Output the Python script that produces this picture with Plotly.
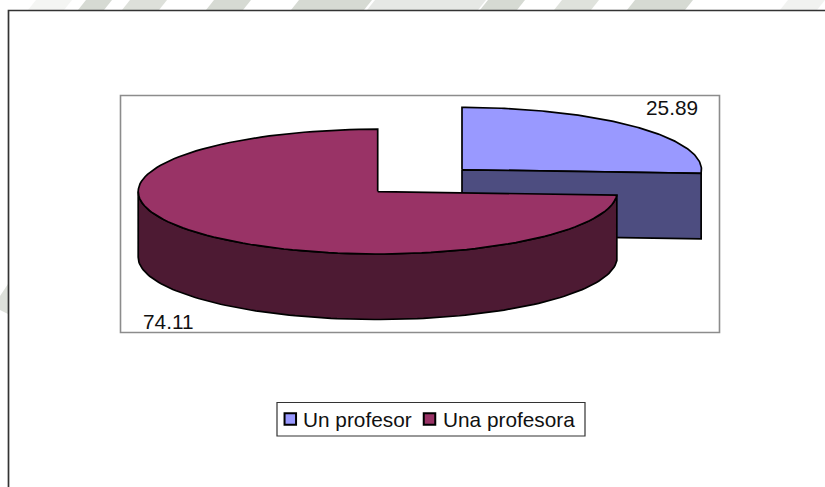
import numpy as np
import plotly.graph_objects as go

categories = ["Un profesor", "Una profesora"]
values = [25.89, 74.11]
slice_colors = ["#9999FF", "#993366"]
wall_colors = ["#4D4D80", "#4D1A33"]

# pie drawn in page pixels: centre of each top face, radii, wall height
centres = [(462, 169.8), (377.7, 191.6)]
rx, ry, depth = 239.5, 62.4, 65.5
outline = dict(color="black", width=1.7)

# faint scan watermark above the frame: x start, x end, colour
watermark = [
    (32, 68, "#f4f5f3"), (82, 108, "#d6dad3"), (126, 163, "#dde0da"), (210, 247, "#d6dad3"),
    (295, 368, "#d6dad3"), (371, 482, "#e6e8e5"), (484, 521, "#d6dad3"), (558, 595, "#dfe2dc"),
    (631, 689, "#d6dad3"), (784, 821, "#f1f2f0"),
]


def arc(cx, cy, start, end, n=120):
    # angles are clockwise from 12 o'clock, as in a spreadsheet pie
    t = np.radians(np.linspace(start, end, n))
    return cx + rx * np.sin(t), cy - ry * np.cos(t)


def add_poly(fig, x, y, color):
    fig.add_trace(go.Scatter(x=x, y=y, mode="lines", fill="toself", fillcolor=color,
                             line=outline, hoverinfo="skip", showlegend=False))


split = 360 * values[0] / sum(values)

fig = go.Figure()

# Un profesor: top face then cut face
cx, cy = centres[0]
ax, ay = arc(cx, cy, 0, split)
add_poly(fig, [cx, *ax, cx], [cy, *ay, cy], slice_colors[0])
add_poly(fig, [cx, ax[-1], ax[-1], cx, cx], [cy, ay[-1], ay[-1] + depth, cy + depth, cy], wall_colors[0])

# Una profesora: outer wall then top face
cx, cy = centres[1]
ax, ay = arc(cx, cy, split, 270)
add_poly(fig, [*ax, *ax[::-1], ax[0]], [*ay, *(ay[::-1] + depth), ay[0]], wall_colors[1])
ax, ay = arc(cx, cy, split, 360)
add_poly(fig, [cx, *ax, cx], [cy, *ay, cy], slice_colors[1])

# legend swatches
fig.add_trace(go.Scatter(x=[290.3, 429.5], y=[419, 419], mode="markers", hoverinfo="skip", showlegend=False,
                         marker=dict(symbol="square", size=11.5, color=slice_colors,
                                     line=dict(color="black", width=2))))

shapes = []
for x0, x1, color in watermark:
    shapes.append(dict(type="path", path=f"M{x0 + 4},0 L{x1 + 4},0 L{x1 - 4},10 L{x0 - 4},10 Z",
                       fillcolor=color, line_width=0, layer="below"))
shapes += [
    dict(type="path", path="M0,296 L8,284 L8,314 L0,310 Z", fillcolor="#dde0da", line_width=0, layer="below"),
    dict(type="rect", x0=8.5, y0=10.5, x1=840, y1=500, fillcolor="white",
         line=dict(color="#333333", width=1.7), layer="below"),
    dict(type="rect", x0=120.5, y0=95.5, x1=719.5, y1=332.5,
         line=dict(color="#8c8c8c", width=1.6), layer="below"),
    dict(type="rect", x0=277, y0=402.5, x1=585, y1=436,
         line=dict(color="#333333", width=1.2), layer="below"),
]


def label(x, y, text):
    return dict(x=x, y=y, text=text, showarrow=False, xanchor="left", yanchor="middle",
                font=dict(family="Liberation Sans", size=20.8, color="#111111"))


annotations = [
    label(643.5, 107, f"{values[0]:.2f}"),
    label(141, 321, f"{values[1]:.2f}"),
    label(301, 419, categories[0]),
    label(440.5, 419, categories[1]),
]

fig.update_layout(
    width=825, height=487, margin=dict(l=0, r=0, t=0, b=0),
    paper_bgcolor="white", plot_bgcolor="rgba(0,0,0,0)",
    xaxis=dict(range=[0, 825], visible=False, fixedrange=True),
    yaxis=dict(range=[487, 0], visible=False, fixedrange=True),
    shapes=shapes, annotations=annotations, showlegend=False,
)

fig.write_html("out.html", config={"displayModeBar": False},
               post_script="document.body.style.margin='0';document.body.style.overflow='hidden';")
